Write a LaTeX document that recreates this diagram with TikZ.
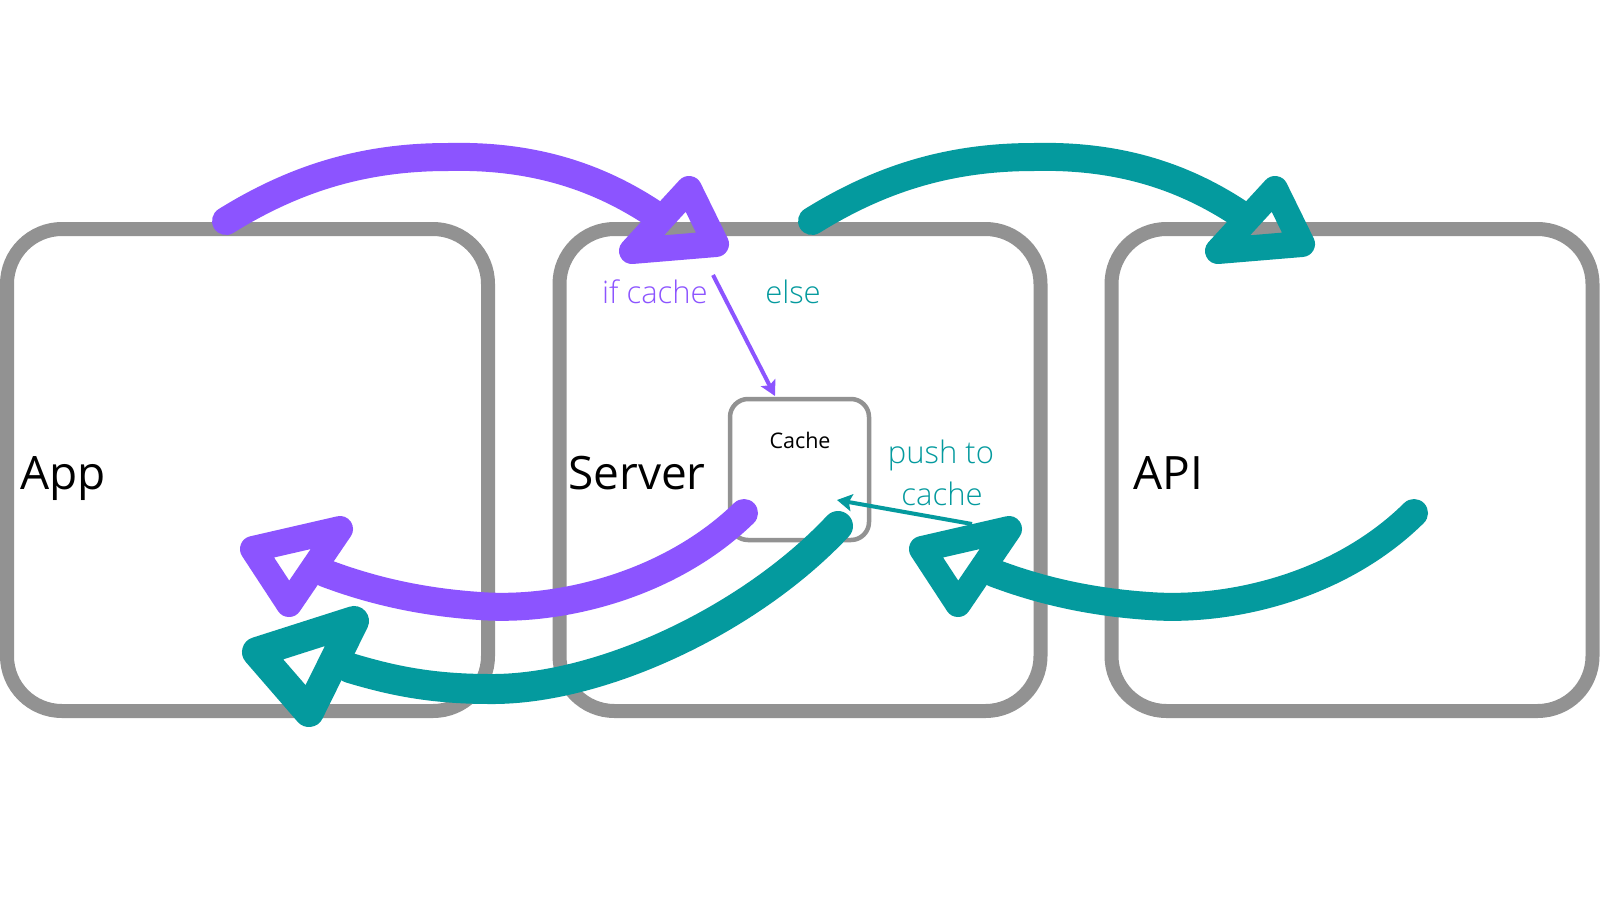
\documentclass[tikz,border=0pt]{standalone}
\usepackage{fontspec}
\setmainfont{Open Sans}
\newfontfamily\lightfont{Open Sans Light}
\usetikzlibrary{arrows.meta}
\definecolor{vio}{HTML}{8C54FF}
\definecolor{tea}{HTML}{049A9E}
\definecolor{frame}{HTML}{929292}
\begin{document}
\begin{tikzpicture}[x=1pt,y=-1pt,
  bigbox/.style={draw=frame, line width=14pt, rounded corners=55pt, minimum width=481pt, minimum height=482pt, inner sep=0pt},
  cachebox/.style={draw=frame, line width=4.5pt, rounded corners=18pt, minimum width=139pt, minimum height=141pt, inner sep=0pt},
  title/.style={font=\fontsize{46}{55}\selectfont, anchor=base west, inner sep=0pt},
  lbl/.style={font=\lightfont\fontsize{31}{40}\selectfont, inner sep=0pt, anchor=base},
  shaftP/.style={draw=vio, line width=28pt, line cap=round},
  shaftT/.style={draw=tea, line width=28pt, line cap=round},
  shaftTb/.style={draw=tea, line width=30pt, line cap=round},
  headP/.style={draw=vio, line width=26pt, line join=round, line cap=round},
  headT/.style={draw=tea, line width=26pt, line join=round, line cap=round},
  headTb/.style={draw=tea, line width=30pt, line join=round, line cap=round},
  thinP/.style={draw=vio, line width=4pt, -{Stealth[length=15pt,width=16pt,inset=3pt]}},
  thinT/.style={draw=tea, line width=4pt, -{Stealth[length=15pt,width=17pt,inset=3pt]}},
]
\fill[white] (0,0) rectangle (1600,900);
\useasboundingbox (0,0) rectangle (1600,900);

% boxes
\node[bigbox] (app) at (247.5,470) {};
\node[bigbox] (server) at (800,470) {};
\node[bigbox] (api) at (1352,470) {};
\node[cachebox] (cache) at (799.5,469.5) {};

% titles
\node[title] (appt) at (20,489) {App};
\node[title] (servert) at (568,489) {Server};
\node[title] (apit) at (1133,489) {API};
\node[font=\fontsize{21.5}{26}\selectfont, anchor=base, inner sep=0pt] (cachet) at (800,448) {Cache};

% labels
\node[lbl, text=vio] (ifc) at (655,303) {if cache};
\node[lbl, text=tea] (els) at (793,303) {else};
\node[lbl, text=tea] (push1) at (941,463) {push to};
\node[lbl, text=tea] (push2) at (942,505) {cache};

% thin arrows
\coordinate (pS) at (713,275);
\coordinate (pE) at (775,396);
\draw[thinP] (pS) -- (pE);
\coordinate (tS) at (972,524);
\coordinate (tE) at (837,500);
\draw[thinT] (tS) -- (tE);

% purple top: App -> Server
\coordinate (a1s) at (226,221);
\coordinate (a1e) at (660,218);
\draw[shaftP] (a1s) .. controls (300,175) and (370,157) .. (448,157) .. controls (530,155) and (598,175) .. (a1e);
\draw[headP] (632,251) -- (689,189) -- (716,244) -- cycle;

% teal top: Server -> API
\coordinate (a2s) at (812,221);
\coordinate (a2e) at (1246,218);
\draw[shaftT] (a2s) .. controls (886,175) and (956,157) .. (1034,157) .. controls (1116,155) and (1184,175) .. (a2e);
\draw[headT] (1218,251) -- (1275,189) -- (1302,244) -- cycle;

% purple bottom: Server(cache) -> App
\coordinate (a3s) at (744,513);
\coordinate (a3e) at (325,573);
\draw[shaftP] (a3s) .. controls (670,585) and (560,612) .. (480,606) .. controls (420,602) and (370,590) .. (a3e);
\draw[headP] (340,529) -- (289,604) -- (253,549) -- cycle;

% teal right: API -> Server
\coordinate (a4s) at (1414,513);
\coordinate (a4e) at (994,573);
\draw[shaftT] (a4s) .. controls (1339,587) and (1229,612) .. (1149,606) .. controls (1089,602) and (1039,590) .. (a4e);
\draw[headT] (1009,529) -- (958,604) -- (922,549) -- cycle;

% teal bottom: Server -> App
\coordinate (a5s) at (838,526);
\coordinate (a5e) at (350,668);
\draw[shaftTb] (a5s) .. controls (750,620) and (600,690) .. (490,689) .. controls (430,689) and (390,680) .. (a5e);
\draw[headTb] (354,621) -- (309,712) -- (257,652) -- cycle;
\end{tikzpicture}
\end{document}
